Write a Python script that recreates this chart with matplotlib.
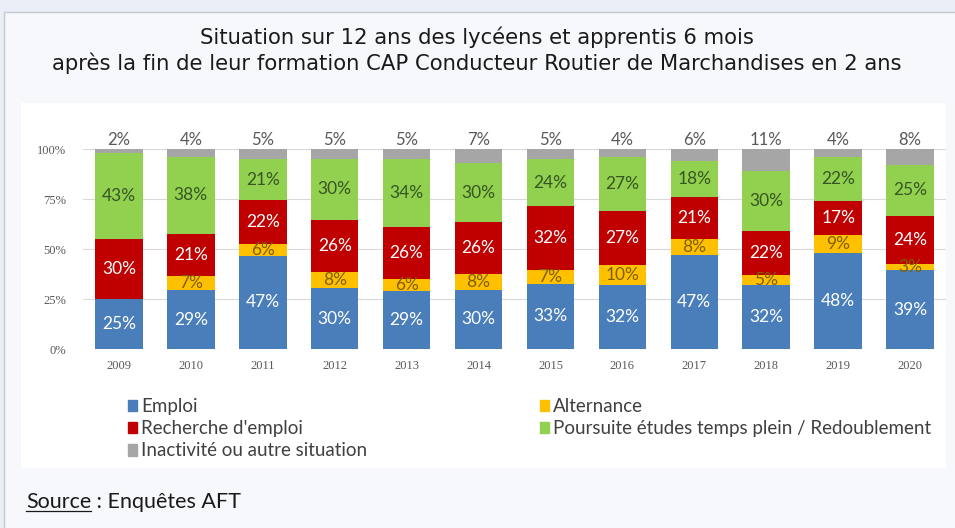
import matplotlib
matplotlib.use("Agg")
import matplotlib.pyplot as plt
from matplotlib.patches import Rectangle, Patch
import numpy as np

years = ["2009", "2010", "2011", "2012", "2013", "2014", "2015", "2016", "2017", "2018", "2019", "2020"]
emploi = [25, 29, 47, 30, 29, 30, 33, 32, 47, 32, 48, 39]
alternance = [0, 7, 6, 8, 6, 8, 7, 10, 8, 5, 9, 3]
recherche = [30, 21, 22, 26, 26, 26, 32, 27, 21, 22, 17, 24]
poursuite = [43, 38, 21, 30, 34, 30, 24, 27, 18, 30, 22, 25]
inactivite = [2, 4, 5, 5, 5, 7, 5, 4, 6, 11, 4, 8]

series = [
    ("Emploi", emploi, "#4a7ebb", "white"),
    ("Alternance", alternance, "#ffc000", "#7f6000"),
    ("Recherche d'emploi", recherche, "#c00000", "white"),
    ("Poursuite études temps plein / Redoublement", poursuite, "#92d050", "#375623"),
    ("Inactivité ou autre situation", inactivite, "#a6a6a6", "#595959"),
]

W, H = 955, 528
fig = plt.figure(figsize=(W / 100, H / 100), dpi=100)
fig.patch.set_facecolor("#eaeef6")

def px(x0, y0, w, h):
    return (x0 / W, 1 - (y0 + h) / H, w / W, h / H)

x0, y0, w, h = px(4, 12, 960, 520)
fig.patches.append(Rectangle((x0, y0), w, h, transform=fig.transFigure,
                             facecolor="#f7f8fc", edgecolor="#c5c9d3", lw=1, zorder=-3))
x0, y0, w, h = px(21, 103, 925, 365)
fig.patches.append(Rectangle((x0, y0), w, h, transform=fig.transFigure,
                             facecolor="white", edgecolor="none", zorder=-2))

fig.text(477 / W, 1 - 37 / H, "Situation sur 12 ans des lycéens et apprentis 6 mois",
         ha="center", va="center", fontsize=15.2, family="DejaVu Sans", color="#1a1a1a")
fig.text(477 / W, 1 - 63 / H,
         "après la fin de leur formation CAP Conducteur Routier de Marchandises en 2 ans",
         ha="center", va="center", fontsize=15.2, family="DejaVu Sans", color="#1a1a1a")

ax = fig.add_axes(px(83, 149, 863, 200))
ax.set_facecolor("white")
x = np.arange(len(years))
data = np.array([s[1] for s in series], dtype=float)
totals = data.sum(axis=0)
norm = data / totals * 100
bottom = np.zeros(len(years))
for (name, vals, color, tcol), nv in zip(series, norm):
    ax.bar(x, nv, bottom=bottom, width=0.66, color=color, label=name, zorder=2)
    for i, (v, raw) in enumerate(zip(nv, vals)):
        if raw == 0:
            continue
        if name.startswith("Inactivit"):
            ax.text(x[i], 104.5, f"{raw}%", ha="center", va="center", fontsize=12,
                    family="Lato", color=tcol, clip_on=False)
        else:
            ax.text(x[i], bottom[i] + v / 2, f"{raw}%", ha="center", va="center",
                    fontsize=12.5, family="Lato", color=tcol, zorder=3)
    bottom += nv

ax.set_xlim(-0.5, len(years) - 0.5)
ax.set_ylim(0, 100)
ax.set_yticks([0, 25, 50, 75, 100])
ax.set_yticklabels(["0%", "25%", "50%", "75%", "100%"])
ax.set_xticks(x)
ax.set_xticklabels(years)
ax.tick_params(length=0, labelsize=9, labelcolor="#595959")
ax.tick_params(axis="x", pad=8)
ax.tick_params(axis="y", pad=12)
for lab in ax.get_xticklabels() + ax.get_yticklabels():
    lab.set_family("Liberation Serif")
ax.grid(axis="y", color="#d9d9d9", lw=0.8, zorder=0)
for s in ax.spines.values():
    s.set_visible(False)

handles = [Patch(color=series[i][2]) for i in [0, 2, 4, 1, 3]]
labels = [series[i][0] for i in [0, 2, 4, 1, 3]]
leg = fig.legend(handles, labels, ncol=2, loc="upper left",
                 bbox_to_anchor=(128 / W, 1 - 398 / H), frameon=False,
                 prop={"family": "Lato", "size": 13.5}, handlelength=0.5, handleheight=0.55,
                 handletextpad=0.2, labelspacing=0.28, columnspacing=9.2,
                 borderaxespad=0, borderpad=0)
for t in leg.get_texts():
    t.set_color("#404040")

t = fig.text(26 / W, 1 - 502 / H, "Source", ha="left", va="center", fontsize=15.5,
             family="Lato", color="#1a1a1a")
fig.canvas.draw()
bb = t.get_window_extent()
fig.text(bb.x1 / W, 1 - 502 / H, " : Enquêtes AFT", ha="left", va="center", fontsize=15.5,
         family="Lato", color="#1a1a1a")
fig.add_artist(plt.Line2D([bb.x0 / W, bb.x1 / W], [(bb.y0 + 1) / H] * 2,
                          transform=fig.transFigure, color="#1a1a1a", lw=0.9))

fig.savefig("out.png", dpi=100, facecolor=fig.get_facecolor())
